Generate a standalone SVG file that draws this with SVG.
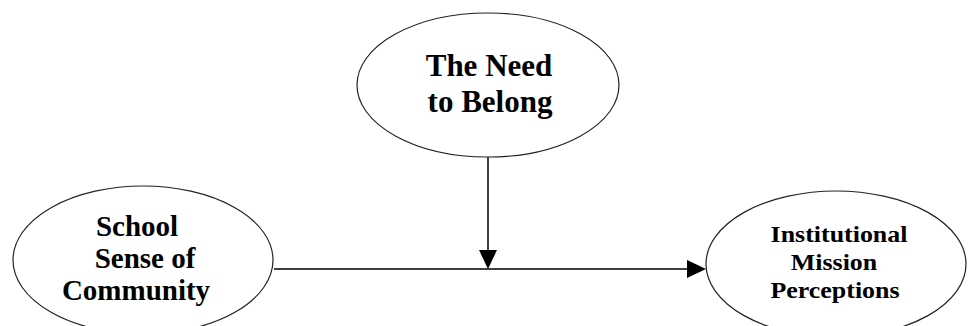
<svg xmlns="http://www.w3.org/2000/svg" width="969" height="326" viewBox="0 0 969 326">
  <style>
    .node { fill: #ffffff; stroke: #222222; stroke-width: 1.2; }
    .lbl { font-family: "Liberation Serif", "Times New Roman", serif; font-weight: bold; fill: #000000; text-anchor: middle; }
    .edge { stroke: #000000; stroke-width: 1.5; fill: none; }
    .head { fill: #000000; stroke: none; }
  </style>
  <rect width="969" height="326" fill="#ffffff"/>
  <g id="connectors">
    <line class="edge" x1="274" y1="269" x2="690" y2="269"/>
    <polygon class="head" points="687,260 706,269 687,278"/>
    <line class="edge" x1="488" y1="157" x2="488" y2="252"/>
    <polygon class="head" points="479,250 488,269 497,250"/>
  </g>
  <g id="need-to-belong">
    <ellipse class="node" cx="488" cy="85" rx="131" ry="72"/>
    <text class="lbl" font-size="31" x="489" y="76">The Need</text>
    <text class="lbl" font-size="31" x="490" y="112">to Belong</text>
  </g>
  <g id="school-sense">
    <ellipse class="node" cx="143" cy="260" rx="130" ry="74"/>
    <text class="lbl" font-size="29" x="137" y="236">School</text>
    <text class="lbl" font-size="29" x="145" y="268">Sense of</text>
    <text class="lbl" font-size="29" x="136" y="300">Community</text>
  </g>
  <g id="mission">
    <ellipse class="node" cx="836" cy="264" rx="130" ry="73"/>
    <text class="lbl" font-size="24" transform="translate(839,242) scale(1.08,1)">Institutional</text>
    <text class="lbl" font-size="24" transform="translate(834,270) scale(1.08,1)">Mission</text>
    <text class="lbl" font-size="24" transform="translate(835,298) scale(1.08,1)">Perceptions</text>
  </g>
</svg>
